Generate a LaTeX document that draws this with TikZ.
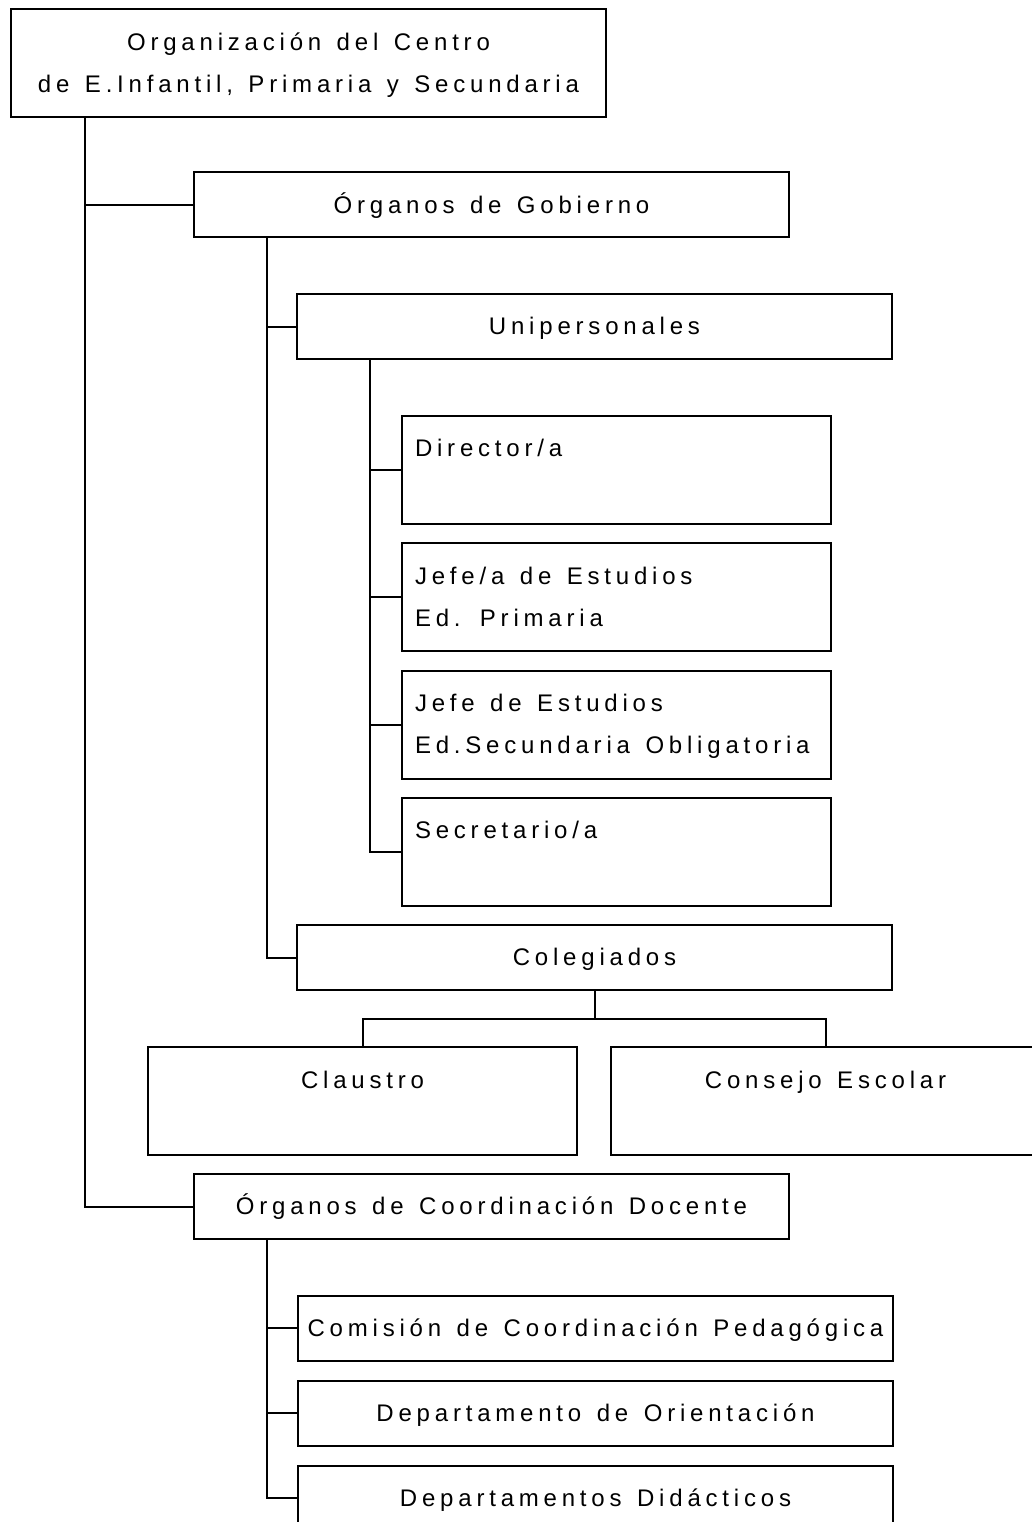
\documentclass[tikz,border=0pt]{standalone}
\usepackage{fontspec}
\setmainfont{Liberation Sans}[LetterSpace=20,WordSpace=1.35]
\usetikzlibrary{calc}
\begin{document}
\begin{tikzpicture}[x=1pt,y=-1pt,
  every node/.style={font=\fontsize{24}{42}\selectfont},
  wbox/.style={draw,line width=2pt,inner sep=0pt,outer sep=0pt,minimum width=595,minimum height=65,align=center},
  tallbox/.style={draw,line width=2pt,inner sep=0pt,outer sep=0pt,minimum width=429,minimum height=108,text width=403,align=flush left},
  talc/.style={tallbox,align=flush center},
  conn/.style={line width=2pt}]
\useasboundingbox (0,0) rectangle (1032,1522);
\clip (0,0) rectangle (1032,1522);
\node[wbox,minimum height=108] (top) at (308.5,63) {\strut Organización del Centro\\\strut de E.Infantil, Primaria y Secundaria};
\node[wbox] (gob) at (491.5,205) {\strut Órganos de Gobierno};
\node[wbox] (uni) at (594.5,326.5) {\strut Unipersonales};
\node[tallbox] (dir) at (616.5,469.5) {\strut Director/a\\\strut};
\node[tallbox] (jp) at (616.5,597) {\strut Jefe/a de Estudios\\\strut Ed. Primaria};
\node[tallbox] (js) at (616.5,724.5) {\strut Jefe de Estudios\\\strut Ed.Secundaria Obligatoria};
\node[tallbox] (sec) at (616.5,851.5) {\strut Secretario/a\\\strut};
\node[wbox] (col) at (594.5,957.5) {\strut Colegiados};
\node[talc] (cla) at (362.5,1101) {\strut Claustro\\\strut};
\node[talc] (con) at (825.5,1101) {\strut Consejo Escolar\\\strut};
\node[wbox] (coord) at (491.5,1206.5) {\strut Órganos de Coordinación Docente};
\node[wbox] (com) at (595.5,1328) {\strut Comisión de Coordinación Pedagógica};
\node[wbox] (dor) at (595.5,1413) {\strut Departamento de Orientación};
\node[wbox] (ddi) at (595.5,1498) {\strut Departamentos Didácticos};
\coordinate (t1) at ($(top.south west)+(74,0)$);
\coordinate (t2) at ($(gob.south west)+(73,0)$);
\coordinate (t3) at ($(uni.south west)+(73,0)$);
\coordinate (t4) at ($(coord.south west)+(73,0)$);
\coordinate (bus) at ($(col.south)+(0,29)$);
\draw[conn] (t1) |- (gob.west);
\draw[conn] (t1) |- (coord.west);
\draw[conn] (t2) |- (uni.west);
\draw[conn] (t2) |- (col.west);
\draw[conn] (t3) |- (dir.west);
\draw[conn] (t3) |- (jp.west);
\draw[conn] (t3) |- (js.west);
\draw[conn] (t3) |- (sec.west);
\draw[conn] (col.south) -- (bus);
\draw[conn] (bus) -| (cla.north);
\draw[conn] (bus) -| (con.north);
\draw[conn] (t4) |- (com.west);
\draw[conn] (t4) |- (dor.west);
\draw[conn] (t4) |- (ddi.west);
\end{tikzpicture}
\end{document}
